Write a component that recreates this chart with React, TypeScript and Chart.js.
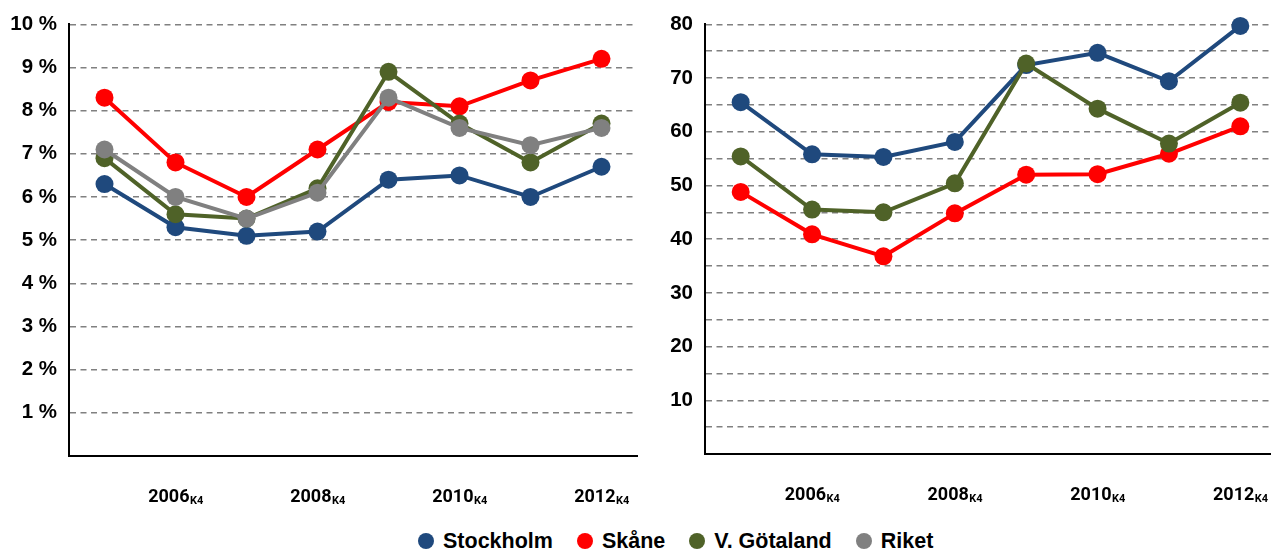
import React, { useEffect, useRef } from "react";
import { Chart, registerables } from "chart.js";

Chart.register(...registerables);

// ---- data ----
const periods = ["2005", "2006", "2007", "2008", "2009", "2010", "2011", "2012"];
const labeledYears = ["2006", "2008", "2010", "2012"];
const quarterSuffix = "K4";

const seriesNames = ["Stockholm", "Skåne", "V. Götaland", "Riket"];
const seriesColors = ["#1F497D", "#FF0000", "#4F6228", "#808080"];

// left panel (%)
const shareStockholm = [6.3, 5.3, 5.1, 5.2, 6.4, 6.5, 6.0, 6.7];
const shareSkane = [8.3, 6.8, 6.0, 7.1, 8.2, 8.1, 8.7, 9.2];
const shareGotaland = [6.9, 5.6, 5.5, 6.2, 8.9, 7.7, 6.8, 7.7];
const shareRiket = [7.1, 6.0, 5.5, 6.1, 8.3, 7.6, 7.2, 7.6];

// right panel
const indexStockholm = [65.5, 55.8, 55.3, 58.1, 72.4, 74.7, 69.4, 79.7];
const indexSkane = [48.8, 40.9, 36.8, 44.8, 52.0, 52.1, 55.9, 61.0];
const indexGotaland = [55.4, 45.5, 45.0, 50.4, 72.7, 64.3, 57.8, 65.4];

const TICK_FONT = { family: "'Liberation Sans', Arial, sans-serif", size: 20.5, weight: "bold" as const };
const XFONT_MAIN = "700 18px Roboto, 'Liberation Sans', sans-serif";
const XFONT_SUB = "700 11px Roboto, 'Liberation Sans', sans-serif";

const xLabelPlugin = {
  id: "xLabelsSub",
  afterDraw(chart: any) {
    const ctx = chart.ctx;
    const xs = chart.scales.x;
    const base = chart.chartArea.bottom + 46;
    ctx.save();
    ctx.fillStyle = "#000";
    ctx.textAlign = "left";
    ctx.textBaseline = "alphabetic";
    periods.forEach((p, i) => {
      if (!labeledYears.includes(p)) return;
      const x = xs.getPixelForValue(i);
      ctx.font = XFONT_MAIN;
      const w1 = ctx.measureText(p).width;
      ctx.font = XFONT_SUB;
      const w2 = ctx.measureText(quarterSuffix).width;
      const start = x - (w1 + w2) / 2;
      ctx.font = XFONT_MAIN;
      ctx.fillText(p, start, base);
      ctx.font = XFONT_SUB;
      ctx.fillText(quarterSuffix, start + w1 + 0.5, base + 2);
    });
    ctx.restore();
  },
};

function makeDataset(idx: number, data: number[], order: number) {
  return {
    label: seriesNames[idx],
    data,
    borderColor: seriesColors[idx],
    backgroundColor: seriesColors[idx],
    pointBackgroundColor: seriesColors[idx],
    pointBorderWidth: 0,
    pointRadius: 9,
    pointHoverRadius: 9,
    borderWidth: 4,
    tension: 0,
    fill: false,
    clip: false,
    order,
  };
}

function buildOptions(
  yMax: number,
  step: number,
  fmt: (v: number) => string,
  axisWidth: number,
  padRight: number,
  xHeight: number
) {
  return {
    responsive: false,
    animation: false as const,
    layout: { padding: { top: 24, right: padRight, bottom: 0, left: 0 } },
    plugins: { legend: { display: false }, tooltip: { enabled: false } },
    scales: {
      x: {
        type: "category" as const,
        offset: true,
        grid: { display: false, drawTicks: false },
        border: { display: true, color: "#000", width: 2 },
        ticks: { display: false },
        afterFit: (s: any) => {
          s.height = xHeight;
        },
      },
      y: {
        min: 0,
        max: yMax,
        grid: { color: "#808080", lineWidth: 1.5, drawTicks: false },
        border: { display: true, color: "#000", width: 2, dash: [6, 4.5] },
        ticks: {
          stepSize: step,
          autoSkip: false,
          padding: 12,
          color: "#000",
          font: TICK_FONT,
          callback: (v: any) => fmt(Number(v)),
        },
        afterFit: (s: any) => {
          s.width = axisWidth;
        },
      },
    },
  };
}

function LeftChart() {
  const ref = useRef<HTMLCanvasElement>(null);
  useEffect(() => {
    if (!ref.current) return;
    const chart = new Chart(ref.current, {
      type: "line",
      data: {
        labels: periods,
        datasets: [
          makeDataset(0, shareStockholm, 4),
          makeDataset(1, shareSkane, 3),
          makeDataset(2, shareGotaland, 2),
          makeDataset(3, shareRiket, 1),
        ],
      },
      options: buildOptions(10, 1, (v) => (v === 0 ? "" : `${v} %`), 69, 13, 64) as any,
      plugins: [xLabelPlugin],
    });
    return () => chart.destroy();
  }, []);
  return (
    <canvas
      ref={ref}
      width={650}
      height={520}
      style={{ position: "absolute", left: 0, top: 0, width: 650, height: 520 }}
    />
  );
}

function RightChart() {
  const ref = useRef<HTMLCanvasElement>(null);
  useEffect(() => {
    if (!ref.current) return;
    const chart = new Chart(ref.current, {
      type: "line",
      data: {
        labels: periods,
        datasets: [
          makeDataset(0, indexStockholm, 4),
          makeDataset(1, indexSkane, 3),
          makeDataset(2, indexGotaland, 2),
        ],
      },
      options: buildOptions(80, 5, (v) => (v !== 0 && v % 10 === 0 ? String(v) : ""), 55, 14, 66) as any,
      plugins: [xLabelPlugin],
    });
    return () => chart.destroy();
  }, []);
  return (
    <canvas
      ref={ref}
      width={640}
      height={520}
      style={{ position: "absolute", left: 650, top: 0, width: 640, height: 520 }}
    />
  );
}

function Legend() {
  return (
    <div
      style={{
        position: "absolute",
        left: 418,
        top: 529,
        height: 24,
        display: "flex",
        alignItems: "center",
        fontFamily: "'Liberation Sans', Arial, sans-serif",
        fontWeight: "bold",
        fontSize: 21.5,
        color: "#000",
        whiteSpace: "nowrap",
      }}
    >
      {seriesNames.map((name, i) => (
        <div key={name} style={{ display: "flex", alignItems: "center", marginRight: 24 }}>
          <span
            style={{
              display: "inline-block",
              width: 16,
              height: 16,
              borderRadius: "50%",
              background: seriesColors[i],
              marginRight: 9,
            }}
          />
          <span style={{ lineHeight: "24px" }}>{name}</span>
        </div>
      ))}
    </div>
  );
}

export default function App() {
  return (
    <div
      style={{
        position: "absolute",
        left: 0,
        top: 0,
        width: 1271,
        height: 551,
        overflow: "hidden",
        background: "#fff",
      }}
    >
      <LeftChart />
      <RightChart />
      <Legend />
    </div>
  );
}
